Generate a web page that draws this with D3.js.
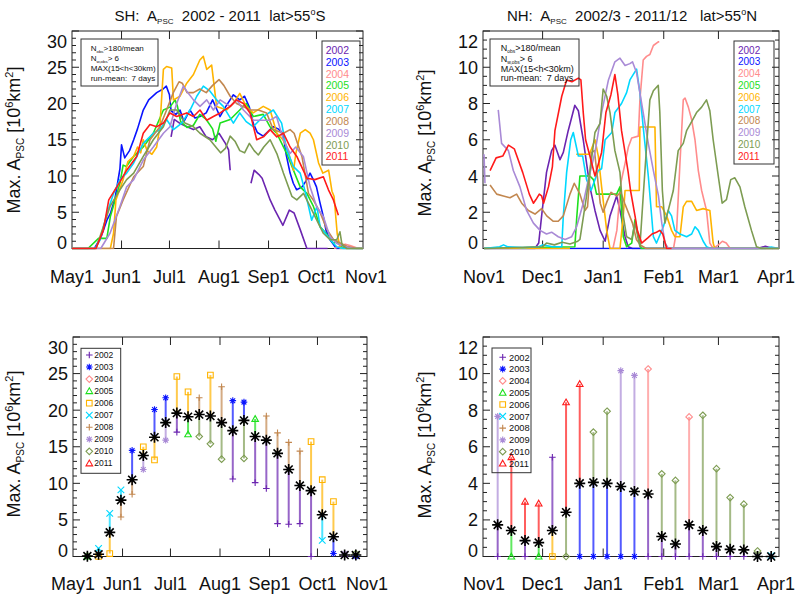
<!DOCTYPE html>
<html><head><meta charset="utf-8">
<script src="https://cdn.jsdelivr.net/npm/d3@7"></script>
<style>body{margin:0;background:#fff} svg{display:block;font-family:"Liberation Sans",Arial,Helvetica,sans-serif}</style>
</head><body><svg id="c" width="796" height="594"></svg>
<script>
// ---------------- DATA ----------------
const years = ["2002","2003","2004","2005","2006","2007","2008","2009","2010","2011"];
const yearColors = ["#6b25b0","#0a14ff","#ff8c8c","#1ee01e","#ffb400","#00d8ff","#c2874f","#a98ad6","#7d9c52","#ff1a1a"];
const yearSymbols = ["plus","asterisk","diamond","triangle","square","cross","plus","asterisk","diamond","triangle"];

const shMonthLabels = ["May1","Jun1","Jul1","Aug1","Sep1","Oct1","Nov1"];
const shMonthDays = [0,31,61,92,123,153,184];
const nhMonthLabels = ["Nov1","Dec1","Jan1","Feb1","Mar1","Apr1"];
const nhMonthDays = [0,30,61,92,120,151];
const shYTicks = [0,5,10,15,20,25,30];
const nhYTicks = [0,2,4,6,8,10,12];

// SH daily series: [day since May1, value]; null = gap
const sh2002 = [[62,15.4],[64,17.8],[68,17.2],[72,16.8],[76,16.4],[80,16.8],[84,15.4],[88,15.0],[92,15.9],[96,14.5],[98,13.6],[99,10.8],[99.2,null],[112,9.0],[114,10.8],[117,10.2],[119,9.7],[124,6.7],[127,5.3],[132,3.2],[136,5.3],[139,4.9],[143,2.5],[147,0],[160,0]];
const sh2003 = [[0,0],[14,0],[18,1.5],[22,4.0],[24,4.8],[27,7],[30,11],[31,14.3],[33,12.5],[36,13.5],[38.6,15],[41,16.5],[44.6,19.1],[48,20.5],[53,21.5],[57,22.0],[59,22.4],[61,21.2],[62,19],[65,18.5],[67.6,19.1],[70,17.5],[73.8,19.1],[77,18.0],[80,18.2],[84,18.7],[88,20.5],[92.6,18.2],[96,19.5],[101,21.2],[105,20.5],[108,21],[111,19.5],[113.4,17.3],[116,16],[119.7,15.5],[123,16.2],[126,16.8],[129,16.5],[132,15.9],[134,13],[136.5,10.4],[138.5,9],[140.6,8.1],[144,8.5],[147,9.5],[149,10.4],[151,9.5],[153,8.5],[155,6.5],[157.3,4.4],[159,2.5],[161.5,1.2],[165.5,0],[184,0]];
const sh2004 = [[164,0],[168,0.3],[171,0.6],[174,0.4],[178,0.1],[182,0]];
const sh2005 = [[0,0],[10,0],[16.6,1.4],[21.8,1.4],[24,4.4],[27,6.7],[30,9],[32,11.5],[34,11.3],[38.6,12.7],[44.6,14],[50.9,15.9],[57.2,19.1],[61.3,19.5],[64.5,20.5],[66,19.6],[68,17.5],[72,16.7],[76,17.0],[80,18.5],[84,17.8],[88,16.5],[90,14.8],[92.7,17.3],[99,17.8],[105,19.1],[109,20],[113.5,18.2],[119.7,18.5],[123.9,16.8],[128.1,15.9],[134.4,13.1],[138.6,10.8],[142.8,8.5],[147,7.6],[151.1,5.8],[155.3,3],[159,2.1],[163.7,0.7],[166,1.0],[168,0.3],[172,0],[184,0]];
const sh2006 = [[0,0],[24,0],[26,2.1],[27.5,6.7],[32,9.5],[35,12],[38.6,12.7],[41,14],[43,13.2],[44.6,15],[47,13.5],[50,13],[53,14],[55,16.8],[57.2,24.7],[59.2,25.1],[62.4,24.9],[63.5,20.5],[67.6,21],[71.8,22.8],[76,24],[80,26],[82.2,26.5],[84.3,24.7],[87.4,25.3],[90.5,19.6],[96.8,19.1],[101,20],[105,21.4],[109,19.6],[113.4,18.7],[119.7,19.6],[124,19.1],[128.2,15.9],[132,15],[134.5,14],[138.7,10.8],[140,13],[142.9,15.9],[146,16.4],[149,15.9],[151.1,15],[154.3,11.8],[157,10.4],[160.6,10.8],[162.7,7.9],[164,7.2],[166,2],[168,0],[184,0]];
const sh2007 = [[0,0],[14.5,0],[17.6,1.2],[21.8,4.8],[26,7.6],[30,9.5],[34.2,10.4],[38.6,11.8],[44.6,14.5],[50.9,15.9],[55,16.4],[59.2,17.8],[63.5,16.4],[68.7,17.3],[73.9,19.1],[78.1,21],[82.2,22.4],[86.4,21.7],[90.5,20.5],[94.7,19.6],[101,17.3],[105,18.7],[109,17.5],[113.4,16.8],[119.7,18.2],[126,19.1],[131.2,17.3],[134.4,13.6],[138.6,11.3],[142.8,10.4],[146,7.8],[150,3.9],[153.3,5.8],[155.3,3],[161.6,1.2],[165.8,0.2],[170,0],[184,0]];
const sh2008 = [[0,0],[26,0],[27.8,4.4],[32,6.7],[38.6,9.9],[44.6,11.3],[48.8,15],[55,16.8],[59.2,19.1],[63.4,21.5],[67,23],[69,22.8],[72,21.5],[76,21.5],[80,22],[84,21.5],[88,22.5],[92,23.3],[95,22.5],[99,21],[103,20],[107,19.6],[111.3,19.1],[116.6,19.1],[121.8,18.7],[126,16.4],[132.3,15.9],[136.5,16.4],[139,15.9],[143.9,12.7],[148,7.6],[151,6.7],[155.4,4.9],[159.6,2.6],[163.7,1.2],[172,0.3],[178,0],[184,0]];
const sh2009 = [[0,0],[18,0],[23.8,2.1],[30,5.8],[34.2,8.5],[38.6,9.5],[44.6,12.2],[50.9,14],[57.2,15.9],[61.3,16.8],[65.5,20],[69.7,22.4],[72.8,21.4],[76,20.5],[80.1,19.6],[84.3,20.5],[88.5,19.1],[92.7,20.5],[99,19.6],[103.1,20.5],[107.3,19.1],[113.5,17.7],[117.7,17.7],[124,17.7],[128,18.2],[132.3,15],[136.5,13.1],[140,14],[144.8,12.7],[149,8.5],[153.1,5.8],[157.3,4.4],[161.5,1.6],[165.7,0.7],[170,0.3],[176,0],[184,0]];
const sh2010 = [[0,0],[15,0],[19.6,3],[23.8,5.8],[30,8.1],[34.2,9.5],[38.6,10.4],[44.6,12.7],[50.9,15],[57.2,16.8],[61.3,19.1],[65.5,19.1],[70.7,17.3],[76,16.8],[80.1,15.9],[86.3,15],[90,14],[93,13.2],[96,13.8],[99,15.5],[102,14.8],[105,13.5],[108,13.2],[111,14.5],[114,13.5],[116.6,12.9],[120,14],[124,15],[128.2,13.1],[132.3,10.4],[137.6,7.2],[140.7,6.7],[144.9,7.6],[149,5.8],[153.2,3.9],[157.3,2.1],[161.5,1.2],[165.7,1.2],[167.7,2.3],[169,0.5],[172,0],[184,0]];
const sh2011 = [[0,0],[15,0],[19.6,2.5],[23,6.7],[30,9.2],[34.2,10.8],[40.5,12.7],[44.6,15.9],[48.8,17.1],[53,16.8],[57.2,17.3],[61.3,18.7],[65.5,18.2],[71.8,18.7],[76,18.2],[80.1,19.1],[84.3,17.7],[88.5,18.2],[92.7,18.7],[99,19.6],[103,20.5],[107.3,20],[111.4,18.7],[115.6,15],[119.8,15.4],[124,16.4],[128.2,15.4],[132.3,15.9],[136.5,14],[140.7,12.7],[147,9.7],[152,9.5],[157.3,9.9],[160.5,8.1],[163.6,6.7],[166.7,4.6]];

// NH daily series: [day since Nov1, value]
const nh2002 = [[0,0],[26,0],[28,0.3],[29.5,1.8],[32,4.2],[34.6,5.4],[36.3,5.7],[38.9,4.9],[40.6,5.3],[43.1,6.5],[46.5,7.9],[48.3,7.6],[50.8,6.0],[54.2,3.4],[56.8,2.1],[59.4,1.0],[62,0.4],[64.5,1.8],[67.9,2.9],[69.6,2.1],[72.2,0.65],[73.8,0.1],[76,0],[140,0],[144,0.12],[148,0]];
const nh2003 = [[0,0],[151,0]];
const nh2004 = [[66,0],[68,1],[70,3.6],[72.2,4.7],[73.9,5.6],[75.6,6.1],[79,6.2],[79.8,8.2],[81.5,10.4],[83.2,10.6],[84.9,10.7],[86.7,11.2],[89.2,11.4],[89.7,11.4],[89.8,null],[97,0],[98.6,1.0],[100.3,4.7],[102,8.2],[102.9,8.3],[104.6,7.8],[106.3,7.1],[108,6.0],[109.7,4.3],[111.4,3.2],[113.9,2.1],[115.6,0.3],[117.3,0],[120,0.2],[122,0.4],[124,0.3],[126,0]];
const nh2005 = [[0,0],[46.5,0.1],[47.4,1.6],[49.1,4.0],[54.2,4.0],[56,3.8],[57.6,3.0],[62.8,3.0],[67.9,3.0],[69.6,3.4],[71.3,0.65],[73,0.1],[75.6,0.3],[77.3,1.6],[79,0.65],[80.5,0],[151,0]];
const nh2006 = [[0,0],[44,0],[44.2,null],[47.2,5.2],[54,5.2],[56.8,6.0],[58.5,5.1],[60.2,3.4],[62.8,1.0],[64.5,0],[69.6,0],[71.3,1.8],[72.2,3.2],[77,3.2],[79.5,3.2],[79.8,6.7],[87.5,6.7],[88.3,2.3],[91,2.3],[93.5,1.8],[96,1.0],[97.7,0.65],[100.3,0.65],[102,2.3],[103.7,2.6],[106.3,2.6],[108.8,2.1],[112.2,2.2],[115.6,2.1],[117.3,0.3],[118.1,0],[151,0]];
const nh2007 = [[0,0],[8,0.1],[10,0.2],[12,0.1],[20,0.05],[28,0.1],[30,0.2],[35,0.1],[39.8,0.1],[40.6,1.8],[42.3,4.2],[44.4,6.0],[45.7,6.4],[48.3,5.1],[50.5,5.1],[52.5,3.8],[54.8,3.2],[56.8,3.8],[58.5,4.3],[60.2,4.4],[62,6.0],[65.4,6.4],[67,7.5],[70.4,8.0],[73,8.6],[74.7,9.3],[78.1,9.9],[79.8,8.6],[81.5,6.7],[84.1,4.0],[86.7,0.65],[88.3,0.3],[91.8,1.2],[94.3,2.1],[96,1.8],[97.7,1.0],[100.3,0.8],[103.7,0.65],[106.3,0.8],[108,1.2],[109.7,1.0],[112.2,0.4],[113.9,0.1],[116,0],[144,0],[147,0.08],[151,0]];
const nh2008 = [[3.1,3.5],[6.5,3.0],[9.9,2.9],[13.3,2.8],[16.7,3.0],[19.3,2.5],[22.7,2.1],[26.1,1.9],[29.5,2.2],[32.1,1.8],[35.5,1.5],[38,1.5],[40.6,1.8],[44,3.0],[46.2,3.6],[49.1,3.0],[51.7,2.1],[53,2.3],[55,5.3],[56.5,5.4],[58,4.0],[59.5,2.5],[61,2.0],[63,2.6],[65,3.1],[68,2.9],[70,3.1],[72,2.5],[76,1.4],[78,0.5],[80,0.2],[83,0],[151,0]];
const nh2009 = [[0,5.2],[0.5,3.6],[0.6,null],[7.3,7.65],[9,5.8],[12.5,5.4],[15,4.3],[18.4,3.4],[21.8,2.1],[25.3,1.4],[28.7,1.0],[32,0.8],[34.6,0.9],[38,0.65],[41.5,0.5],[44.9,0.65],[47.4,1.2],[50.8,2.5],[53.4,3.8],[56.8,5.3],[60.2,7.5],[63.7,9.3],[67,10.3],[69.6,10.5],[72.2,10.1],[74.7,10.2],[76,10.3],[78.1,9.7],[80.7,8.0],[84.1,5.8],[86.7,4.3],[89.3,2.9],[91,1.4],[92.7,0.3],[94.4,0],[151,0]];
const nh2010 = [[0,0],[30,0.1],[32,0.3],[36,0.2],[40,0.35],[44,0.25],[48,0.4],[49.1,0.5],[52.5,2.9],[55,4.9],[56.8,6.4],[59.4,6.9],[61,8.8],[62.8,8.4],[64.5,7.5],[67,5.4],[69.6,4.2],[71.3,1.8],[73,0.65],[75.6,0.5],[77.3,1.4],[79.8,0.1],[81.5,2.9],[83.2,5.6],[84.9,8.2],[86.7,8.7],[88.3,8.9],[89.2,9.0],[90,7.5],[91.3,3.2],[92.6,1.4],[94.3,2.1],[96.9,3.2],[99.4,5.4],[102,5.8],[103.7,6.5],[106.3,7.0],[108.8,7.5],[111.4,7.8],[113.9,8.2],[115.6,7.6],[117.3,6.0],[119.9,4.0],[121.9,2.5],[124.1,2.7],[126.3,3.8],[128.4,3.9],[131,3.4],[133.5,2.3],[136.9,1.0],[139.5,0.1],[142,0],[151,0]];
const nh2011 = [[3.1,4.3],[6.2,5.0],[9.6,5.1],[12.5,5.7],[15.5,5.5],[19.8,4.2],[23.2,3.0],[25.3,2.5],[26.6,2.7],[28.3,3.0],[29.5,2.9],[30.5,2.5],[33,3.4],[35,4.5],[36.3,6.5],[39.8,8.4],[42.3,9.3],[45,9.2],[48.3,9.4],[49.6,9.3],[50.8,7.5],[52,6.0],[54.2,5.1],[56.8,4.0],[60.2,5.3],[62.4,7.5],[65,8.5],[67,9.6],[68.5,8.5],[70.4,6.5],[72.2,5.3],[73.8,4.2],[75,3.2],[77.3,1.8],[78.5,1.0],[80.7,0.3],[84,0.6],[86,0.8],[88.3,0.9],[90,1.0],[91.5,0.8],[93.5,0],[96,0]];

const shSeries = [sh2002,sh2003,sh2004,sh2005,sh2006,sh2007,sh2008,sh2009,sh2010,sh2011];
const nhSeries = [nh2002,nh2003,nh2004,nh2005,nh2006,nh2007,nh2008,nh2009,nh2010,nh2011];

// Weekly statistics (bottom panels)
const shBinDays = [9,16,23,30,37,44,51,58,65,72,79,86,93,100,107,114,121,128,135,142,149,156,163,170,177];
const shMean = [0.05,0.3,3.3,7.7,10.5,13.8,16.3,18.3,19.6,19.1,19.4,19.2,18.3,17.2,18.6,16.4,15.9,14.1,11.9,9.7,9.0,5.7,2.7,0.2,0.2];
const shMax = [0.1,1.1,5.9,9.1,14.5,15.0,20.1,21.7,24.6,22.5,21.7,24.8,23.2,21.3,21.1,18.8,19.2,16.9,15.6,14.4,15.7,10.5,7.5,0.4,0.4];
const shMaxYear = ["2010","2007","2007","2007","2003","2006","2003","2003","2006","2006","2008","2006","2008","2003","2003","2005","2008","2008","2008","2008","2006","2006","2006","2009","2010"];
const shMin = [0,0,0.4,5.4,8.5,11.9,13.2,15.9,17.0,16.7,16.4,15.4,13.3,10.6,13.4,10.1,9.3,4.5,4.4,4.5,0,2.2,0.4,0,0];
const shMinYear = ["2005","2006","2006","2008","2008","2009","2006","2009","2002","2005","2010","2010","2010","2002","2010","2002","2002","2002","2002","2002","2002","2007","2003","2002","2003"];

const nhBinDays = [7,14,21,28,35,42,49,56,63,70,77,84,91,98,105,112,119,126,133,140,147];
const nhMean = [1.73,1.42,0.87,0.76,1.42,2.42,4.0,4.05,4.0,3.83,3.55,3.42,1.09,0.68,1.73,1.42,0.54,0.39,0.36,0.0,0.0];
const nhMax = [7.66,5.43,3.0,2.9,5.43,8.43,9.43,6.8,7.94,10.16,9.9,10.25,4.52,4.16,7.63,7.72,4.8,3.22,2.86,0.3,0.05];
const nhMaxYear = ["2009","2011","2011","2011","2002","2011","2011","2010","2010","2009","2009","2004","2010","2010","2004","2010","2010","2010","2010","2010","2007"];
const nhMin = [0,0,0,0,0,0,0,0,0,0,0,0,0,0,0,0,0,0,0,0,0];
const nhMinYear = ["2002","2005","2002","2005","2006","2010","2003","2003","2003","2003","2003","2002","2002","2002","2002","2002","2002","2002","2002","2003","2003"];

// ---------------- DRAWING ----------------
const svg = d3.select("#c");
const W = 796;
const colorOf = yr => yearColors[years.indexOf(yr)];
const symOf = yr => yearSymbols[years.indexOf(yr)];
const AX = "#222";

function symbol(g, type, cx, cy, s, color, sw) {
  sw = sw || 1.1;
  const p = d3.path();
  if (type === "plus" || type === "asterisk") {
    p.moveTo(cx - s, cy); p.lineTo(cx + s, cy);
    p.moveTo(cx, cy - s); p.lineTo(cx, cy + s);
  }
  if (type === "cross" || type === "asterisk") {
    const k = type === "asterisk" ? s * 0.72 : s;
    p.moveTo(cx - k, cy - k); p.lineTo(cx + k, cy + k);
    p.moveTo(cx - k, cy + k); p.lineTo(cx + k, cy - k);
  }
  if (type === "diamond") {
    p.moveTo(cx, cy - s); p.lineTo(cx + s, cy); p.lineTo(cx, cy + s); p.lineTo(cx - s, cy); p.closePath();
  }
  if (type === "triangle") {
    p.moveTo(cx, cy - s); p.lineTo(cx + s, cy + s * 0.75); p.lineTo(cx - s, cy + s * 0.75); p.closePath();
  }
  if (type === "square") {
    p.rect(cx - s * 0.85, cy - s * 0.85, s * 1.7, s * 1.7);
  }
  g.append("path").attr("d", p.toString()).attr("fill", "none")
    .attr("stroke", color).attr("stroke-width", sw);
}

function yTitle(cx, cy) {
  const t = svg.append("text").attr("transform", `translate(${cx},${cy}) rotate(-90)`)
    .attr("text-anchor", "middle").attr("font-size", 18).attr("fill", "#111");
  t.append("tspan").text("Max. A");
  t.append("tspan").attr("font-size", 10).attr("dy", 4).text("PSC");
  t.append("tspan").attr("dy", -4).text(" [10");
  t.append("tspan").attr("font-size", 11).attr("dy", -7).text("6");
  t.append("tspan").attr("dy", 7).text("km");
  t.append("tspan").attr("font-size", 11).attr("dy", -7).text("2");
  t.append("tspan").attr("dy", 7).text("]");
}

function frame(cfg) {
  const { box, x, y, monthDays, monthLabels, yTicks, minorStep, labelBase, id } = cfg;
  const [x0, y0, x1, y1] = box;
  const g = svg.append("g");
  g.append("rect").attr("x", x0).attr("y", y0).attr("width", x1 - x0).attr("height", y1 - y0)
    .attr("fill", "none").attr("stroke", AX).attr("stroke-width", 1);
  const ymax = y.domain()[1];
  const minors = d3.range(0, ymax + 1e-9, minorStep);
  minors.forEach(v => {
    const isMajor = yTicks.some(t => Math.abs(t - v) < 1e-6);
    const L = isMajor ? 7 : 4;
    const yy = y(v);
    if (yy < y0 - 0.5) return;
    g.append("line").attr("x1", x0).attr("x2", x0 + L).attr("y1", yy).attr("y2", yy).attr("stroke", AX);
    g.append("line").attr("x1", x1).attr("x2", x1 - L).attr("y1", yy).attr("y2", yy).attr("stroke", AX);
  });
  monthDays.forEach(d => {
    const xx = x(d);
    if (xx <= x0 + 1 || xx >= x1 - 1) return;
    g.append("line").attr("x1", xx).attr("x2", xx).attr("y1", y1).attr("y2", y1 - 8).attr("stroke", AX);
    g.append("line").attr("x1", xx).attr("x2", xx).attr("y1", y0).attr("y2", y0 + 8).attr("stroke", AX);
  });
  yTicks.forEach((v, i) => {
    let base = y(v) + 6.5;
    if (i === 0) base = y(v);
    if (i === yTicks.length - 1) base = y(v) + 16.5;
    g.append("text").attr("x", x0 - 5).attr("y", base).attr("text-anchor", "end")
      .attr("font-size", 18).attr("fill", "#111").text(d3.format("d")(v));
  });
  monthDays.forEach((d, i) => {
    const t = g.append("text").attr("x", x(d)).attr("y", labelBase).attr("text-anchor", "middle")
      .attr("font-size", 18).attr("fill", "#111").text(monthLabels[i]);
    const len = t.node().getComputedTextLength();
    if (x(d) + len / 2 > W - 1) t.attr("text-anchor", "end").attr("x", W - 1);
  });
  svg.append("clipPath").attr("id", id).append("rect")
    .attr("x", x0).attr("y", y0 - 1).attr("width", x1 - x0).attr("height", y1 - y0 + 2);
  return g;
}

function linePanel(cfg, series) {
  frame(cfg);
  const { x, y, id } = cfg;
  const line = d3.line().defined(d => d[1] != null).x(d => x(d[0])).y(d => y(d[1]));
  const g = svg.append("g").attr("clip-path", `url(#${id})`);
  series.forEach((s, i) => {
    g.append("path").attr("d", line(s)).attr("fill", "none")
      .attr("stroke", yearColors[i]).attr("stroke-width", 1.6).attr("stroke-linejoin", "round");
  });
}

function statPanel(cfg, days, mean, mx, mxYr, mn, mnYr) {
  frame(cfg);
  const { x, y } = cfg;
  const g = svg.append("g");
  days.forEach((d, i) => {
    const xx = x(d);
    g.append("line").attr("x1", xx).attr("x2", xx).attr("y1", y(mean[i])).attr("y2", y(mx[i]))
      .attr("stroke", colorOf(mxYr[i])).attr("stroke-width", 2).attr("stroke-opacity", 0.7);
    g.append("line").attr("x1", xx).attr("x2", xx).attr("y1", y(mn[i])).attr("y2", y(mean[i]))
      .attr("stroke", colorOf(mnYr[i])).attr("stroke-width", 2).attr("stroke-opacity", 0.7);
  });
  days.forEach((d, i) => {
    const xx = x(d);
    symbol(g, symOf(mxYr[i]), xx, y(mx[i]), 3.3, colorOf(mxYr[i]));
    symbol(g, symOf(mnYr[i]), xx, y(mn[i]), 3.3, colorOf(mnYr[i]));
  });
  days.forEach((d, i) => {
    symbol(g, "asterisk", x(d), y(mean[i]), 5.5, "#000", 1.6);
  });
}

function infoBox(x0, y0, w, h, tx, bases, fs) {
  const g = svg.append("g");
  g.append("rect").attr("x", x0).attr("y", y0).attr("width", w).attr("height", h)
    .attr("fill", "none").attr("stroke", "#333").attr("stroke-width", 1);
  const lines = [["N", "obs", ">180/mean"], ["N", "w,obs", "> 6"], ["MAX(15<h<30km)", "", ""], ["run-mean:  7 days", "", ""]];
  lines.forEach((l, i) => {
    const t = g.append("text").attr("x", tx).attr("y", bases[i]).attr("font-size", fs)
      .attr("fill", "#111").attr("xml:space", "preserve").style("white-space", "pre");
    t.append("tspan").text(l[0]);
    if (l[1]) {
      t.append("tspan").attr("font-size", fs * 0.55).attr("dy", 2).text(l[1]);
      t.append("tspan").attr("dy", -2).text(l[2]);
    }
  });
}

function yearLegend(x0, y0, w, h, tx, base0, step, fs) {
  const g = svg.append("g");
  g.append("rect").attr("x", x0).attr("y", y0).attr("width", w).attr("height", h)
    .attr("fill", "none").attr("stroke", "#333").attr("stroke-width", 1);
  years.forEach((yr, i) => {
    g.append("text").attr("x", tx).attr("y", base0 + i * step).attr("font-size", fs)
      .attr("fill", yearColors[i]).text(yr);
  });
}

function symLegend(x0, y0, w, h, mx, tx, c0, step, fs) {
  const g = svg.append("g");
  g.append("rect").attr("x", x0).attr("y", y0).attr("width", w).attr("height", h)
    .attr("fill", "none").attr("stroke", "#333").attr("stroke-width", 1);
  years.forEach((yr, i) => {
    const cy = c0 + i * step;
    symbol(g, yearSymbols[i], mx, cy, 3.3, yearColors[i]);
    g.append("text").attr("x", tx).attr("y", cy + fs * 0.36).attr("font-size", fs)
      .attr("fill", "#111").text(yr);
  });
}

function title(cx, base, parts) {
  const t = svg.append("text").attr("x", cx).attr("y", base).attr("text-anchor", "middle")
    .attr("font-size", 15).attr("fill", "#111").attr("xml:space", "preserve").style("white-space", "pre");
  t.append("tspan").text(parts[0]);
  t.append("tspan").attr("font-size", 8).attr("dy", 3).text("PSC");
  t.append("tspan").attr("dy", -3).text(parts[1]);
  t.append("tspan").attr("font-size", 9).attr("dy", -6).text("o");
  t.append("tspan").attr("dy", 6).text(parts[2]);
}

const TL = { id: "cTL", box: [72, 31, 363, 248.5], x: d3.scaleLinear([0, 184], [72, 366]), y: d3.scaleLinear([0, 30], [248.5, 31]),
  monthDays: shMonthDays, monthLabels: shMonthLabels, yTicks: shYTicks, minorStep: 1, labelBase: 283 };
const TR = { id: "cTR", box: [483, 31, 779, 248.5], x: d3.scaleLinear([0, 151], [484, 779]), y: d3.scaleLinear([0, 12], [248.5, 31]),
  monthDays: nhMonthDays, monthLabels: nhMonthLabels, yTicks: nhYTicks, minorStep: 0.5, labelBase: 283 };
const BL = { id: "cBL", box: [73, 337, 367, 556.5], x: d3.scaleLinear([0, 184], [73, 367]), y: d3.scaleLinear([0, 30], [556.5, 337]),
  monthDays: shMonthDays, monthLabels: shMonthLabels, yTicks: shYTicks, minorStep: 1, labelBase: 589.5 };
const BR = { id: "cBR", box: [483, 337, 779, 556.5], x: d3.scaleLinear([0, 151], [484, 779]), y: d3.scaleLinear([0, 12], [556.5, 337]),
  monthDays: nhMonthDays, monthLabels: nhMonthLabels, yTicks: nhYTicks, minorStep: 0.5, labelBase: 589.5 };

linePanel(TL, shSeries);
linePanel(TR, nhSeries);
statPanel(BL, shBinDays, shMean, shMax, shMaxYear, shMin, shMinYear);
statPanel(BR, nhBinDays, nhMean, nhMax, nhMaxYear, nhMin, nhMinYear);

infoBox(81, 39, 77, 47, 90.7, [51, 61, 71, 80.5], 8);
infoBox(490, 39, 89, 47, 500.7, [51, 61.6, 71.6, 81.4], 9);
yearLegend(322, 41, 38, 124, 325.7, 53.8, 11.85, 10.5);
yearLegend(734, 41, 40, 123, 738, 53.5, 11.8, 10);
symLegend(81, 348.3, 39.7, 125, 89.3, 94.3, 355, 12.04, 8.5);
symLegend(492, 348, 39, 124.7, 502.7, 509, 357.3, 11.8, 9.3);

title(220, 20.5, ["SH:  A", "  2002 - 2011  lat>55", "S"]);
title(632, 20.5, ["NH:  A", "  2002/3 - 2011/12   lat>55", "N"]);

yTitle(20, 140);
yTitle(431, 143);
yTitle(20, 444);
yTitle(431, 445);
</script></body></html>
